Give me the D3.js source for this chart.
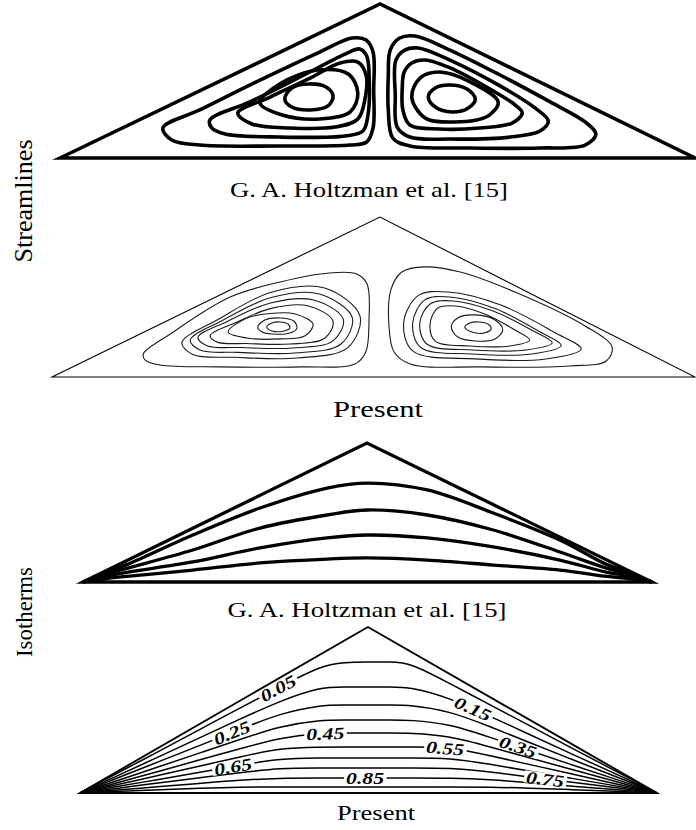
<!DOCTYPE html>
<html>
<head>
<meta charset="utf-8">
<script src="https://cdn.jsdelivr.net/npm/d3@7"></script>
<style>
  body { margin: 0; background: #fff; }
  svg { display: block; }
</style>
</head>
<body>
<svg id="fig" width="696" height="830"></svg>
<script>
// All geometry is in cavity coordinates: x = % of base width, y = % of cavity height.

// Cavity outlines (left corner, apex, right corner)
const cavityHoltzmanStream = [[0, 0], [50.4, 100], [100, 0]];
const cavityPresentStream  = [[0, 0], [51.0, 100], [100, 0]];
const cavityHoltzmanIso    = [[0, 0], [49.9, 100], [100, 0]];
const cavityPresentIso     = [[0, 0], [49.9, 100], [100, 0]];

// Streamlines, Holtzman et al. — left cell (outer to inner)
const holtzmanLeftCell = [
  [[16.2,19.5],[22.0,31.2],[31.5,50.6],[40.9,68.8],[46.0,77.9],[48.2,76.6],[49.3,68.8],[49.4,44.2],[49.3,19.5],[48.3,10.4],[45.7,8.4],[34.6,7.8],[22.0,8.4],[17.6,11.7]],
  [[23.6,24.7],[29.9,36.4],[37.8,52.6],[44.9,67.5],[47.2,70.8],[48.3,66.2],[48.7,50.6],[48.5,27.9],[47.7,17.5],[44.9,14.3],[34.6,13.6],[26.0,15.6],[23.9,19.5]],
  [[28.0,29.2],[33.1,39.6],[39.4,51.9],[44.1,61.7],[46.9,62.3],[48.2,53.9],[48.0,37.7],[46.9,25.3],[43.3,20.1],[36.2,19.5],[30.2,22.1]],
  [[31.5,35.7],[34.6,48.1],[40.6,57.1],[45.4,54.5],[46.9,42.2],[45.7,29.9],[40.9,25.3],[35.0,27.9]],
  [[35.4,38.3],[36.5,45.5],[39.2,48.1],[41.9,46.1],[43.0,40.3],[42.2,33.8],[39.4,31.2],[36.5,33.1]]
];
// Streamlines, Holtzman et al. — right cell
const holtzmanRightCell = [
  [[52.0,70.1],[53.5,77.9],[55.9,79.2],[61.4,70.1],[69.3,53.9],[77.2,36.4],[82.7,23.4],[84.4,15.6],[82.7,8.4],[75.6,6.5],[64.6,6.5],[55.1,7.8],[52.4,13.0],[51.7,31.2],[51.7,53.9]],
  [[52.9,63.6],[54.3,70.1],[56.4,71.4],[61.4,63.6],[69.3,46.8],[74.8,32.5],[76.9,24.0],[75.6,17.5],[70.9,13.6],[61.4,12.3],[55.1,13.6],[53.1,20.1],[52.8,40.9]],
  [[54.2,55.8],[55.4,61.7],[57.5,63.6],[62.2,57.1],[67.7,44.8],[71.7,34.4],[72.8,29.2],[71.2,22.7],[66.1,19.5],[59.8,18.8],[55.1,21.4],[54.0,31.2],[53.9,45.5]],
  [[55.4,39.6],[56.7,51.9],[59.8,55.8],[64.6,49.4],[69.0,36.4],[67.4,27.3],[62.2,23.4],[57.5,26.0]],
  [[58.0,39.6],[59.1,45.5],[61.4,47.4],[64.1,44.8],[65.4,38.3],[64.3,32.5],[61.7,29.9],[59.1,33.1]]
];

// Streamlines, present solution — left cell
const presentLeftCell = [
  [[14.2,14.4],[18.4,26.9],[27.7,50.0],[35.5,59.4],[43.2,65.0],[47.4,64.4],[49.0,58.1],[49.3,35.6],[48.8,15.6],[47.1,8.1],[38.6,6.3],[26.1,6.3],[16.8,7.5],[14.5,10.6]],
  [[20.2,21.5],[25.8,35.9],[34.1,53.0],[42.4,55.6],[47.9,38.1],[46.0,18.4],[38.2,11.9],[28.5,12.3],[21.9,14.1]],
  [[21.5,23.1],[26.5,35.3],[34.1,49.7],[41.6,51.9],[46.7,37.1],[44.9,20.5],[37.8,15.0],[29.0,15.4],[23.0,16.9]],
  [[22.7,24.8],[27.2,34.6],[34.0,46.3],[40.7,48.1],[45.3,36.1],[43.7,22.6],[37.4,18.1],[29.5,18.4],[24.1,19.6]],
  [[24.6,25.9],[28.4,33.7],[34.1,42.9],[39.9,44.4],[43.7,34.9],[42.4,24.2],[37.0,20.6],[30.3,20.9],[25.7,21.8]],
  [[27.4,28.1],[30.0,36.3],[33.9,39.7],[37.8,39.4],[40.6,33.1],[39.3,25.6],[35.5,23.8],[30.8,24.1]],
  [[32.0,31.3],[33.1,35.6],[35.5,36.9],[37.6,35.0],[38.1,30.6],[37.0,27.5],[34.2,26.9],[32.7,28.1]],
  [[33.4,31.3],[34.2,33.8],[35.5,34.4],[36.7,33.1],[37.0,30.6],[36.1,28.8],[34.2,28.8]]
];
// Streamlines, present solution — right cell
const presentRightCell = [
  [[52.4,32.5],[52.7,54.4],[54.4,65.6],[58.0,68.8],[63.5,65.6],[72.0,53.1],[82.9,31.9],[87.1,18.8],[86.2,10.0],[80.6,6.9],[66.6,6.3],[55.7,8.1],[53.2,15.6]],
  [[54.7,34.3],[57.0,51.0],[61.6,53.1],[69.9,44.8],[78.1,28.0],[82.3,17.5],[76.8,11.3],[65.8,11.3],[56.1,16.3]],
  [[56.1,33.9],[58.0,48.2],[61.9,50.0],[68.8,42.9],[75.7,28.6],[79.2,19.7],[74.6,14.4],[65.3,14.4],[57.3,18.6]],
  [[57.2,33.8],[58.9,45.9],[62.4,47.5],[68.5,41.4],[74.7,29.1],[77.8,21.4],[73.7,16.9],[65.4,16.9],[58.3,20.6]],
  [[58.8,33.1],[60.0,43.1],[62.7,44.4],[67.3,39.4],[72.0,29.4],[74.3,23.1],[71.2,19.4],[65.0,19.4],[59.6,22.4]],
  [[62.1,31.3],[63.1,36.9],[65.8,38.8],[68.9,35.6],[70.1,29.4],[68.9,23.8],[65.8,22.5],[63.1,25.0]],
  [[64.2,31.3],[65.0,33.8],[66.4,34.4],[67.8,33.1],[68.3,30.0],[67.2,27.5],[65.3,28.1]]
];

// Isotherms, Holtzman et al.: shared stations along the base, heights per isotherm
const holtzmanIsoX = [0, 4, 7.7, 19.3, 31.1, 42.9, 50.0, 60.5, 72.1, 83.8, 92.1, 96, 100];
const holtzmanIsoY = [
  [0, 7.0, 12.5, 33.8, 53.2, 67.6, 71.2, 66.2, 49.6, 30.2, 12.5, 7.0, 0],
  [0, 5.6,  9.8, 23.0, 38.8, 48.2, 51.8, 48.2, 37.4, 21.6,  9.8, 5.6, 0],
  [0, 4.2,  7.0, 14.4, 24.5, 31.7, 33.8, 31.7, 25.2, 15.8,  7.0, 4.2, 0],
  [0, 2.5,  4.0,  8.6, 13.7, 16.5, 17.3, 15.8, 12.2,  8.6,  4.0, 2.5, 0]
];

// Isotherms, present solution (θ = 0.05 … 0.95)
const presentIsoX = [0, 6.9, 13.9, 20.8, 27.7, 34.7, 41.6, 45.9, 49.9, 53.7, 57.2, 64.1, 71.1, 78.0, 84.9, 91.9, 97.1, 100];
const presentIsoY = [
  [0,12.8,25.5,38.4,51.1,63.9,76.6,78.9,78.9,78.9,78.6,65.9,53.1,40.4,27.7,14.9,5.4,0],
  [0,11.1,22.2,33.4,44.5,55.5,63.9,63.9,63.9,63.9,63.9,57.3,46.2,35.1,24.0,13.0,4.7,0],
  [0,9.6,19.2,28.7,38.3,48.0,53.0,53.0,53.0,53.0,53.0,49.4,39.9,30.3,20.7,11.2,4.0,0],
  [0,8.0,16.1,24.2,32.2,40.3,44.0,44.0,44.0,44.0,44.0,41.6,33.5,25.5,17.4,9.4,3.4,0],
  [0,6.6,13.3,20.0,26.7,33.3,36.1,36.1,36.1,36.1,36.1,34.4,27.7,21.1,14.5,7.8,2.8,0],
  [0,5.4,10.8,16.3,21.7,27.1,27.7,27.7,27.7,27.7,27.7,27.7,22.5,17.1,11.7,6.3,2.3,0],
  [0,4.2,8.3,12.5,16.7,20.8,21.1,21.1,21.1,21.1,21.1,21.1,17.3,13.2,9.0,4.9,1.7,0],
  [0,3.1,6.1,9.2,12.2,15.1,15.1,15.1,15.1,15.1,15.1,15.1,12.7,9.6,6.6,3.6,1.3,0],
  [0,1.9,3.9,5.8,7.8,9.0,9.0,9.0,9.0,9.0,9.0,9.0,8.1,6.1,4.2,2.3,0.8,0],
  [0,1.0,1.9,2.9,3.6,3.6,3.6,3.6,3.6,3.6,3.6,3.6,3.6,2.9,2.1,1.1,0.4,0]
];
// Contour labels: text, isotherm index, position along the base
const isoLabelText  = ["0.05", "0.15", "0.25", "0.35", "0.45", "0.55", "0.65", "0.75", "0.85"];
const isoLabelIndex = [0, 1, 2, 3, 4, 5, 6, 7, 8];
const isoLabelX     = [34.3, 68.1, 26.3, 75.9, 42.5, 63.3, 26.5, 80.6, 49.4];

// Captions
const captionHoltzman = "G. A. Holtzman et al. [15]";
const captionPresent  = "Present";
const rowLabels = ["Streamlines", "Isotherms"];

const svg = d3.select("#fig");
const SERIF = "'Liberation Serif', 'Times New Roman', serif";

function panelScales(xRange, yRange) {
  return {
    x: d3.scaleLinear().domain([0, 100]).range(xRange),
    y: d3.scaleLinear().domain([0, 100]).range(yRange)
  };
}
const sA = panelScales([60, 695], [158, 4]);
const sB = panelScales([52, 695], [377, 217]);
const sC = panelScales([83, 652], [582, 443]);
const sD = panelScales([80, 657], [793, 627]);

function drawCavity(g, s, pts, w) {
  const line = d3.line().x(d => s.x(d[0])).y(d => s.y(d[1])).curve(d3.curveLinearClosed);
  g.append("path").attr("d", line(pts))
    .attr("fill", "none").attr("stroke", "#000").attr("stroke-width", w)
    .attr("stroke-linejoin", "miter").attr("stroke-miterlimit", 12);
}
function drawLoops(g, s, loops, w, color) {
  const line = d3.line().x(d => s.x(d[0])).y(d => s.y(d[1]))
    .curve(d3.curveCatmullRomClosed.alpha(0.5));
  g.selectAll(null).data(loops).join("path")
    .attr("d", line).attr("fill", "none")
    .attr("stroke", color).attr("stroke-width", w);
}
function drawIsotherms(g, s, xs, yss, w, curve) {
  const line = d3.line().x(d => s.x(d[0])).y(d => s.y(d[1])).curve(curve);
  return g.selectAll(null).data(yss).join("path")
    .attr("d", ys => line(ys.map((y, i) => [xs[i], y])))
    .attr("fill", "none").attr("stroke", "#000").attr("stroke-width", w)
    .attr("stroke-linejoin", "round");
}

// Streamlines — Holtzman et al.
const gA = svg.append("g");
drawLoops(gA, sA, holtzmanLeftCell, 3.6, "#000");
drawLoops(gA, sA, holtzmanRightCell, 3.6, "#000");
drawCavity(gA, sA, cavityHoltzmanStream, 3.6);

// Streamlines — present
const gB = svg.append("g");
drawLoops(gB, sB, presentLeftCell, 1.1, "#1a1a1a");
drawLoops(gB, sB, presentRightCell, 1.1, "#1a1a1a");
drawCavity(gB, sB, cavityPresentStream, 1.1);

// Isotherms — Holtzman et al.
const gC = svg.append("g");
drawIsotherms(gC, sC, holtzmanIsoX, holtzmanIsoY, 3.3, d3.curveCatmullRom.alpha(0.5));
drawCavity(gC, sC, cavityHoltzmanIso, 3.3);

// Isotherms — present, with inline contour labels
const gD = svg.append("g");
const isoPaths = drawIsotherms(gD, sD, presentIsoX, presentIsoY, 1.5, d3.curveBasis);
drawCavity(gD, sD, cavityPresentIso, 1.9);

function lengthAtX(node, px) {
  let lo = 0, hi = node.getTotalLength();
  for (let k = 0; k < 40; k++) {
    const mid = (lo + hi) / 2;
    if (node.getPointAtLength(mid).x < px) lo = mid; else hi = mid;
  }
  return lo;
}
const nodes = isoPaths.nodes();
isoLabelText.forEach((txt, k) => {
  const node = nodes[isoLabelIndex[k]];
  const L = lengthAtX(node, sD.x(isoLabelX[k]));
  const p = node.getPointAtLength(L);
  const p1 = node.getPointAtLength(Math.max(0, L - 6));
  const p2 = node.getPointAtLength(L + 6);
  const ang = Math.atan2(p2.y - p1.y, p2.x - p1.x) * 180 / Math.PI;
  const lg = gD.append("g").attr("transform", `translate(${p.x},${p.y}) rotate(${ang})`);
  const bg = lg.append("rect").attr("fill", "#fff");
  const t = lg.append("text")
    .attr("text-anchor", "middle").attr("dy", "0.36em")
    .attr("font-family", SERIF).attr("font-weight", "bold").attr("font-style", "italic")
    .attr("font-size", 17)
    .attr("textLength", 38).attr("lengthAdjust", "spacingAndGlyphs")
    .text(txt);
  const bb = t.node().getBBox();
  bg.attr("x", bb.x - 2).attr("y", -6).attr("width", bb.width + 4).attr("height", 12);
});

// Captions
function caption(txt, x, y, size, len) {
  svg.append("text").attr("x", x).attr("y", y)
    .attr("text-anchor", "middle")
    .attr("font-family", SERIF).attr("font-size", size)
    .attr("textLength", len).attr("lengthAdjust", "spacingAndGlyphs")
    .text(txt);
}
caption(captionHoltzman, 369, 197, 22, 278);
caption(captionPresent, 378, 417, 23, 90);
caption(captionHoltzman, 367, 617, 22, 279);
caption(captionPresent, 376, 820, 22, 78);

// Row labels
function rowLabel(txt, x, y, size, len) {
  svg.append("text").attr("transform", `translate(${x},${y}) rotate(-90)`)
    .attr("text-anchor", "middle")
    .attr("font-family", SERIF).attr("font-size", size)
    .attr("textLength", len).attr("lengthAdjust", "spacingAndGlyphs")
    .text(txt);
}
rowLabel(rowLabels[0], 32, 201, 25, 123);
rowLabel(rowLabels[1], 32, 612, 24, 90);
</script>
</body>
</html>
